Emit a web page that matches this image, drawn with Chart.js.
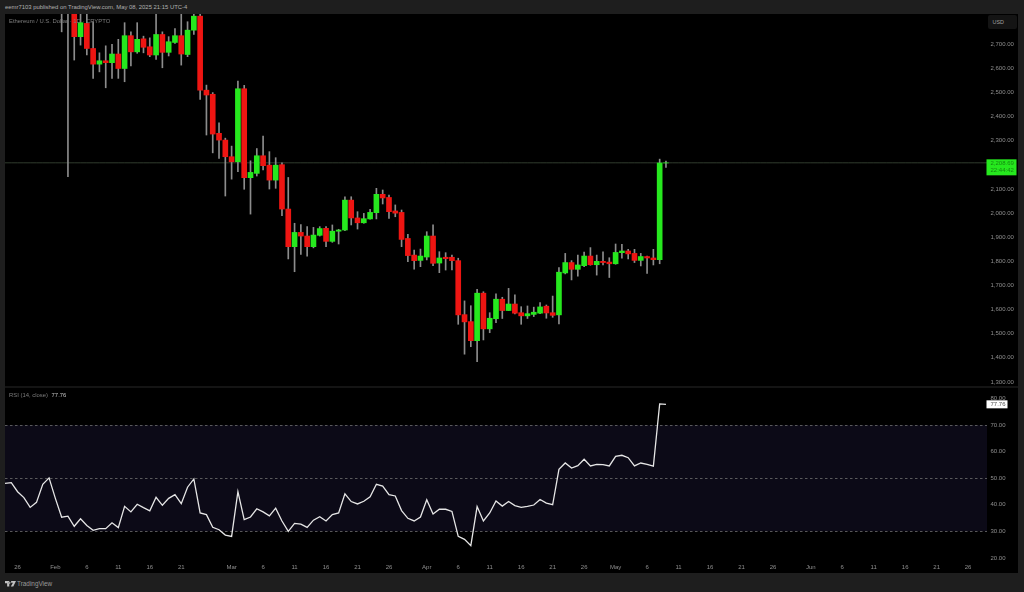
<!DOCTYPE html>
<html><head><meta charset="utf-8">
<script src="https://cdn.jsdelivr.net/npm/chart.js@4"></script>
<style>
html,body{margin:0;padding:0;background:#1e1e1e;width:1024px;height:592px;overflow:hidden;font-family:"Liberation Sans",Arial,sans-serif}
#bg{position:absolute;left:5px;top:14px;width:1013px;height:559px;background:#000}
#sep{position:absolute;left:5px;top:386px;width:1013px;height:2px;background:#141414}
canvas{position:absolute;display:block}
.t{position:absolute;white-space:nowrap}
</style></head><body>
<div id="bg"></div><div id="sep"></div>
<canvas id="price" style="left:5px;top:14px;width:1013px;height:372px"></canvas>
<canvas id="rsi" style="left:5px;top:388px;width:1013px;height:185px"></canvas>
<div class="t" style="left:5px;top:2px;font-size:5.9px;line-height:11px;color:#b0b0b0">eemr7103 published on TradingView.com, May 08, 2025 21:15 UTC-4</div>
<div class="t" style="left:9px;top:16px;font-size:5.9px;line-height:10px;color:#7d7d7d">Ethereum / U.S. Dollar · 1D · CRYPTO</div>
<div class="t" style="left:9px;top:390px;font-size:5.9px;line-height:10px;color:#7d7d7d">RSI (14, close) <span style="color:#c0c0c0;margin-left:2px">77.76</span></div>
<div class="t" style="left:988px;top:15px;width:29px;height:14px;box-sizing:border-box;background:#141414;border-radius:2px;font-size:5.4px;line-height:14px;color:#a0a0a0;padding-left:4.5px">USD</div>
<svg style="position:absolute;left:5px;top:581px" width="11" height="5.5" viewBox="0 0 36 18"><path d="M0 0H14V18H7V7H0ZM20 0H36L27 18H19L26 6H20Z M15 3a3 3 0 1 0 .01 0Z" fill="#c0c0c0"/></svg>
<div class="t" style="left:17px;top:578px;font-size:6.4px;line-height:11px;color:#9a9a9a">TradingView</div>
<script>
// Time axis: Jan 24 2025 onward, one slot per day
const AXIS_DAYS = 157;
const tickLabels = {"Jan 26":"26","Feb 1":"Feb","Feb 6":"6","Feb 11":"11","Feb 16":"16","Feb 21":"21","Mar 1":"Mar","Mar 6":"6","Mar 11":"11","Mar 16":"16","Mar 21":"21","Mar 26":"26","Apr 1":"Apr","Apr 6":"6","Apr 11":"11","Apr 16":"16","Apr 21":"21","Apr 26":"26","May 1":"May","May 6":"6","May 11":"11","May 16":"16","May 21":"21","May 26":"26","Jun 1":"Jun","Jun 6":"6","Jun 11":"11","Jun 16":"16","Jun 21":"21","Jun 26":"26"};
const MONTHS=["Jan","Feb","Mar","Apr","May","Jun","Jul"];
const days=[];
for(let i=0;i<AXIS_DAYS;i++){const d=new Date(Date.UTC(2025,0,24+i));days.push(MONTHS[d.getUTCMonth()]+" "+d.getUTCDate());}
const candlesStartAt = "Feb 2";

const opens=[3100,2880,2870,2732,2787,2683,2618,2632,2624,2660,2600,2736,2669,2723,2690,2656,2741,2667,2708,2736,2658,2759,2817,2510,2493,2331,2303,2234,2213,2516,
2147,2165,2238,2199,2137,2201,2017,1861,1920,1905,1861,1908,1937,1883,1925,1930,2054,1980,1960,1976,2002,2078,2065,2009,2003,1895,1826,1804,1818,1905,1793,1817,
1817,1803,1579,1550,1471,1668,1520,1562,1643,1596,1623,1587,1574,1580,1585,1614,1587,1578,1752,1795,1767,1782,1822,1786,1800,1797,1790,1836,1843,1833,1804,1820,1814,1807,2208];
const closes=[2880,2870,2732,2790,2683,2618,2632,2624,2660,2600,2736,2669,2721,2688,2656,2741,2667,2711,2736,2660,2759,2817,2510,2490,2328,2303,2234,2213,2516,2147,
2169,2238,2197,2137,2199,2017,1861,1920,1905,1861,1909,1936,1883,1925,1930,2054,1980,1960,1977,2003,2078,2063,2006,2000,1891,1824,1803,1822,1905,1792,1814,1811,
1803,1578,1549,1471,1668,1520,1564,1643,1596,1623,1585,1574,1583,1589,1611,1586,1576,1755,1795,1767,1785,1822,1786,1800,1795,1790,1837,1843,1831,1804,1820,1814,1807,2208,2208.69];
const highs=[3170,2925,2900,2830,2830,2794,2665,2694,2700,2721,2790,2752,2790,2734,2727,2850,2752,2732,2766,2850,2794,2850,2850,2531,2500,2375,2311,2278,2548,2530,
2217,2268,2320,2255,2230,2209,2148,1958,1953,1944,1941,1944,1944,1951,1933,2068,2068,2006,1999,2016,2103,2096,2075,2034,2013,1912,1847,1851,1923,1951,1840,1836,
1826,1813,1636,1616,1684,1674,1587,1665,1651,1688,1661,1612,1615,1610,1629,1619,1656,1774,1833,1803,1826,1838,1857,1826,1840,1815,1872,1871,1850,1850,1833,1822,1850,2224,2216];
const lows=[2752,2151,2635,2697,2656,2559,2586,2520,2559,2559,2545,2611,2663,2665,2649,2638,2603,2652,2704,2614,2649,2741,2472,2324,2250,2227,2071,2141,2172,2099,
1996,2154,2179,2100,2103,1990,1810,1757,1829,1822,1856,1905,1861,1879,1872,1927,1951,1934,1958,1975,1976,2038,1978,1985,1861,1799,1768,1778,1806,1782,1753,1764,
1764,1539,1415,1446,1384,1474,1504,1546,1563,1596,1582,1539,1563,1571,1583,1564,1568,1540,1748,1723,1739,1778,1784,1743,1785,1733,1788,1813,1810,1795,1781,1750,1785,1790,2190];
const rsiValues=[48.0,48.3,44.9,42.7,39.0,40.9,47.7,50.1,42.4,35.3,35.7,31.9,34.7,32.2,30.4,31.0,31.0,33.2,31.4,39.4,37.3,40.2,38.9,37.7,42.8,39.8,42.4,43.8,40.4,46.6,49.7,36.9,36.3,31.5,30.6,28.6,28.1,44.9,34.4,35.4,38.5,37.3,35.8,38.7,33.9,30.0,33.0,32.7,31.5,34.2,35.5,33.9,36.3,36.9,
44.1,41.2,40.3,41.3,43.0,47.7,47.0,43.8,43.3,37.8,34.9,33.9,35.4,41.9,36.5,38.3,38.3,37.5,28.1,27.0,24.6,39.3,33.9,36.9,41.4,39.5,41.2,39.7,39.0,39.4,39.9,42.0,40.6,40.0,53.3,55.7,53.8,54.7,57.1,54.6,55.2,55.1,54.6,58.2,58.6,57.7,54.6,55.7,55.2,54.5,77.9,77.76];
const rsiStartAt="Jan 24";
const lastPrice=2208.69, lastRsi=77.76, countdown="22:44:42";
const rsiBands=[70,50,30];

const GREEN="#26e81e", RED="#ee1512", WICK="#8c8c8c", AXIS="#8f8f8f";
const FONT='"Liberation Sans",Arial,sans-serif';
const pad=(arr,start)=>{const n=days.indexOf(start);const o=new Array(n).fill(null).concat(arr);while(o.length<days.length)o.push(null);return o;};
const wicks=pad(lows.map((l,i)=>[l,highs[i]]),candlesStartAt);
const bodies=pad(opens.map((o,i)=>[o,closes[i]]),candlesStartAt);
const colors=pad(opens.map((o,i)=>closes[i]>=o?GREEN:RED),candlesStartAt);
const fmt=v=>Number(v).toLocaleString("en-US",{minimumFractionDigits:2,maximumFractionDigits:2});
const fixY=a=>{a.width=31;a.paddingTop=0;a.paddingBottom=0;};
const fixX=a=>{a.height=14;a.paddingLeft=0;a.paddingRight=0;};

const tagPlugin={id:"tags",afterDraw(c,args,o){
  const ctx=c.ctx,s=c.scales.y,a=c.chartArea;const y=s.getPixelForValue(o.value);
  ctx.save();ctx.fillStyle=o.bg;
  const h=o.sub?16:8;const top=o.sub?y-3.5:y-4;
  ctx.fillRect(a.right-0.5,top,o.w,h);
  ctx.fillStyle=o.fg;ctx.font="6px "+FONT;ctx.textBaseline="middle";ctx.textAlign="left";
  ctx.fillText(fmt(o.value),a.right+3.5,o.sub?y+0.5:y);
  if(o.sub)ctx.fillText(o.sub,a.right+3.5,y+7.5);
  ctx.restore();
}};
const bandPlugin={id:"bands",beforeDatasetsDraw(c){
  const ctx=c.ctx,s=c.scales.y,a=c.chartArea;
  const yt=s.getPixelForValue(rsiBands[0]),yb=s.getPixelForValue(rsiBands[2]);
  ctx.save();ctx.fillStyle="#0c0a17";ctx.fillRect(a.left,yt,a.width,yb-yt);
  ctx.strokeStyle="#6f6f6f";ctx.lineWidth=0.8;ctx.setLineDash([2.5,2.5]);
  rsiBands.forEach(v=>{const y=Math.round(s.getPixelForValue(v))+0.5;ctx.beginPath();ctx.moveTo(a.left,y);ctx.lineTo(a.right,y);ctx.stroke();});
  ctx.restore();
}};

new Chart(document.getElementById("price"),{
  type:"bar",
  plugins:[tagPlugin],
  data:{labels:days,datasets:[
    {type:"line",data:days.map(()=>lastPrice),borderColor:"rgba(120,150,115,.5)",borderWidth:0.8,pointRadius:0,order:3},
    {data:wicks,backgroundColor:WICK,barThickness:1,grouped:false,order:2},
    {data:bodies,backgroundColor:colors,barThickness:5,grouped:false,order:1}
  ]},
  options:{responsive:false,animation:false,devicePixelRatio:1,
    layout:{padding:0},
    plugins:{legend:{display:false},tooltip:{enabled:false},
      tags:{value:lastPrice,sub:countdown,bg:GREEN,fg:"#148a10",w:30}},
    scales:{
      x:{type:"category",offset:false,display:false,grid:{display:false}},
      y:{position:"right",min:1283,max:2826,afterFit:fixY,grid:{display:false,drawTicks:false},border:{display:false},
         ticks:{stepSize:100,includeBounds:false,color:AXIS,padding:3.5,font:{size:6,family:FONT},callback:v=>fmt(v)}}
    }}
});

new Chart(document.getElementById("rsi"),{
  type:"line",
  plugins:[bandPlugin,tagPlugin],
  data:{labels:days,datasets:[{data:pad(rsiValues,rsiStartAt),borderColor:"#e6e6e6",borderWidth:1.3,pointRadius:0,tension:0}]},
  options:{responsive:false,animation:false,devicePixelRatio:1,
    layout:{padding:0},
    plugins:{legend:{display:false},tooltip:{enabled:false},
      tags:{value:lastRsi,bg:"#ffffff",fg:"#555555",w:21}},
    scales:{
      x:{type:"category",offset:false,afterFit:fixX,grid:{display:false,drawTicks:false},border:{display:false},
         ticks:{autoSkip:false,maxRotation:0,minRotation:0,padding:5,color:AXIS,font:{size:6,family:FONT},
           callback(v){return tickLabels[this.getLabelForValue(v)]??null;}}},
      y:{position:"right",min:19.6,max:83.9,afterFit:fixY,grid:{display:false,drawTicks:false},border:{display:false},
         ticks:{stepSize:10,includeBounds:false,color:AXIS,padding:3.5,font:{size:6,family:FONT},callback:v=>fmt(v)}}
    }}
});
</script>
</body></html>
